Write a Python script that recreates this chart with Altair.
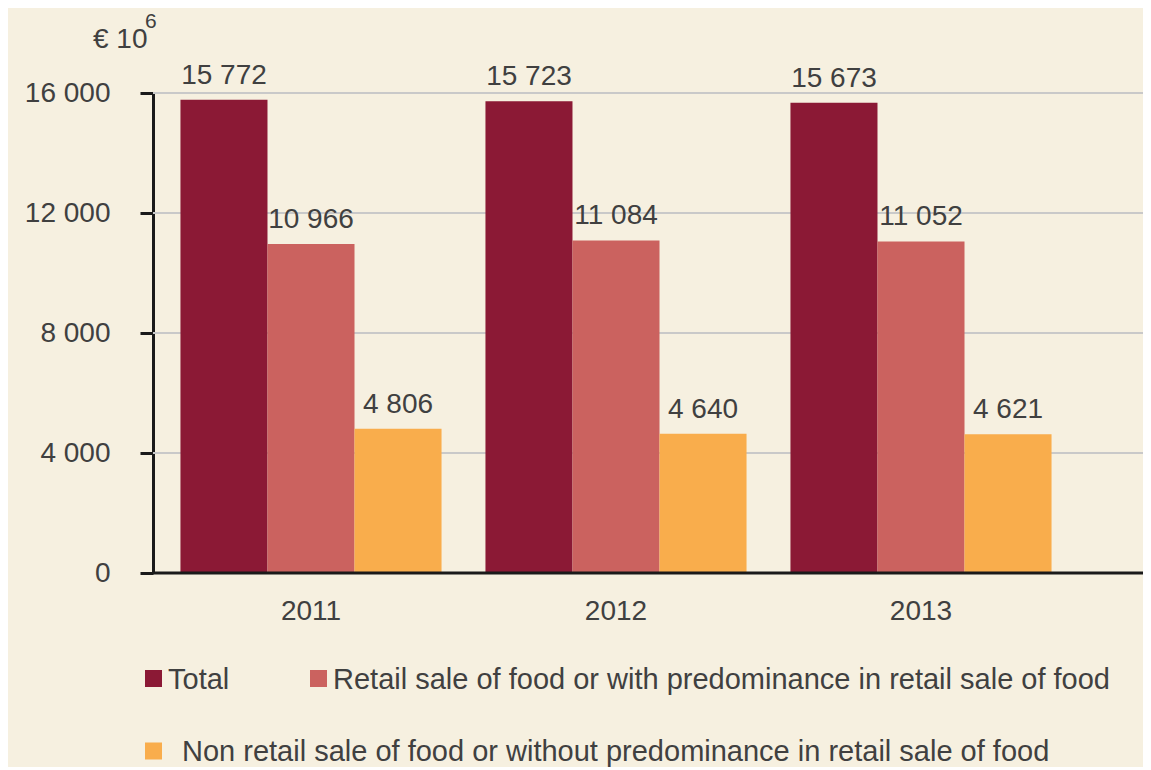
import altair as alt
import pandas as pd

years = ["2011", "2012", "2013"]
series = [
    "Total",
    "Retail sale of food or with predominance in retail sale of food",
    "Non retail sale of food or without predominance in retail sale of food",
]
total = [15772, 15723, 15673]
retail = [10966, 11084, 11052]
non_retail = [4806, 4640, 4621]
colors = ["#8B1935", "#CB625F", "#F9AD4C"]
y_ticks = [0, 4000, 8000, 12000, 16000]

rows = []
for name, vals in zip(series, [total, retail, non_retail]):
    for yr, v in zip(years, vals):
        rows.append({"year": yr, "series": name, "value": v,
                     "label": f"{v:,}".replace(",", " ")})
df = pd.DataFrame(rows)
grid_df = pd.DataFrame({"tick": y_ticks})

FONT = "Liberation Sans"
TXT = "#404040"
W, H = 990, 480

x_enc = alt.X("year:N", title=None,
              scale=alt.Scale(range=[5.5, 920.5], paddingInner=0.144, paddingOuter=0.072),
              axis=alt.Axis(labelAngle=0, ticks=False, domain=False, labelPadding=24,
                            labelFontSize=28, labelFont=FONT, labelColor=TXT))
xo_enc = alt.XOffset("series:N", sort=series,
                     scale=alt.Scale(domain=series, paddingInner=0, paddingOuter=0))
y_scale = alt.Scale(domain=[0, 16000], nice=False)
y_enc = alt.Y("value:Q", title=None, scale=y_scale,
              axis=alt.Axis(values=y_ticks,
                            labelExpr="replace(format(datum.value, ','), ',', ' ')",
                            labelFontSize=28, labelFont=FONT, labelColor=TXT, labelPadding=30,
                            domainColor="#1a1a1a", domainWidth=3, tickColor="#1a1a1a",
                            tickWidth=3, tickSize=13, grid=False))

grid = alt.Chart(grid_df).mark_rule(color="#C9C9C9", strokeWidth=2).encode(
    y=alt.Y("tick:Q", scale=y_scale), x=alt.value(0), x2=alt.value(W)
)

bars = alt.Chart(df).mark_bar().encode(
    x=x_enc,
    xOffset=xo_enc,
    y=y_enc,
    color=alt.Color("series:N", sort=series,
                    scale=alt.Scale(domain=series, range=colors), legend=None),
)

labels = alt.Chart(df).mark_text(baseline="alphabetic", dy=-16, fontSize=28,
                                  font=FONT, color=TXT).encode(
    x="year:N", xOffset=alt.XOffset("series:N", sort=series), y="value:Q", text="label:N"
)

base_rule = alt.Chart(grid_df).transform_filter("datum.tick == 0").mark_rule(
    color="#1a1a1a", strokeWidth=3
).encode(y=alt.Y("tick:Q", scale=y_scale), x=alt.value(0), x2=alt.value(W))

unit_main = alt.Chart(pd.DataFrame({"t": ["€ 10"]})).mark_text(
    align="left", baseline="alphabetic", fontSize=28, font=FONT, color=TXT
).encode(text="t:N", x=alt.value(-60), y=alt.value(-45))

unit_sup = alt.Chart(pd.DataFrame({"t": ["6"]})).mark_text(
    align="left", baseline="alphabetic", fontSize=21, font=FONT, color=TXT
).encode(text="t:N", x=alt.value(-8), y=alt.value(-65))

# manual legend (two entries on first row, one on second)
legend_pos = [(0.5, 585.5, 15), (165.5, 585.5, 180), (0.5, 658, 29)]
legend_layers = []
for name, col, (sx, sy, tx) in zip(series, colors, legend_pos):
    ldf = pd.DataFrame({"name": [name]})
    legend_layers.append(
        alt.Chart(ldf).mark_square(size=289, color=col, opacity=1).encode(
            x=alt.value(sx), y=alt.value(sy))
    )
    legend_layers.append(
        alt.Chart(ldf).mark_text(align="left", baseline="middle", fontSize=29,
                                  font=FONT, color=TXT).encode(
            text="name:N", x=alt.value(tx), y=alt.value(sy + 1))
    )

chart = alt.layer(grid, bars, labels, base_rule, unit_main, unit_sup,
                  *legend_layers).properties(
    width=W, height=H,
    autosize=alt.AutoSizeParams(type="none"),
    padding={"left": 145, "top": 85, "right": 0, "bottom": 194},
    background="#F6F0E0",
).configure_view(stroke=None)

chart.save("out.html", embed_options={"renderer": "svg", "actions": False})
